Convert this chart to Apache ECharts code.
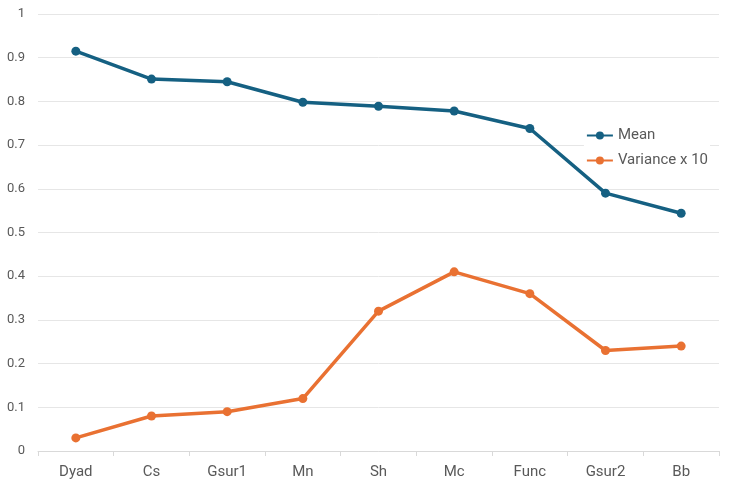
<!DOCTYPE html>
<html><head><meta charset="utf-8">
<script src="https://cdn.jsdelivr.net/npm/echarts@6/dist/echarts.min.js"></script>
<style>html,body{margin:0;padding:0;background:#fff}#c{width:750px;height:488px}</style>
</head><body><div id="c"></div>
<script>
const categories = ['Dyad','Cs','Gsur1','Mn','Sh','Mc','Func','Gsur2','Bb'];
const meanValues = [0.915, 0.851, 0.845, 0.798, 0.789, 0.778, 0.738, 0.590, 0.544];
const varianceValues = [0.030, 0.080, 0.090, 0.120, 0.320, 0.410, 0.360, 0.230, 0.240];
const seriesNames = ['Mean', 'Variance x 10'];
const colors = ['#156082', '#E97132'];

const chart = echarts.init(document.getElementById('c'), null, {renderer: 'canvas'});
const font = 'Roboto, "Liberation Sans", sans-serif';
chart.setOption({
  animation: false,
  backgroundColor: '#fff',
  grid: {left: 38, right: 31, top: 14, bottom: 37, containLabel: false},
  legend: {
    orient: 'vertical', right: 40, top: 124,
    itemWidth: 26, itemHeight: 10, itemGap: 10,
    backgroundColor: '#fff', padding: [4, 2, 4, 2],
    textStyle: {color: '#595959', fontSize: 15, fontFamily: font},
    data: seriesNames
  },
  xAxis: {
    type: 'category', data: categories, boundaryGap: true,
    axisLine: {lineStyle: {color: '#d9d9d9'}},
    axisTick: {show: true, length: 5, lineStyle: {color: '#d9d9d9'}},
    axisLabel: {color: '#595959', fontSize: 15, margin: 14, fontFamily: font}
  },
  yAxis: {
    type: 'value', min: 0, max: 1, interval: 0.1,
    axisLine: {show: false}, axisTick: {show: false},
    splitLine: {lineStyle: {color: '#e6e6e6'}},
    axisLabel: {color: '#595959', fontSize: 13, margin: 13, fontFamily: font,
      formatter: v => String(Math.round(v * 10) / 10)}
  },
  series: [
    {name: seriesNames[0], type: 'line', data: meanValues, color: colors[0],
     symbol: 'circle', symbolSize: 9, lineStyle: {width: 3.5}},
    {name: seriesNames[1], type: 'line', data: varianceValues, color: colors[1],
     symbol: 'circle', symbolSize: 9, lineStyle: {width: 3.5}}
  ]
});
</script></body></html>
